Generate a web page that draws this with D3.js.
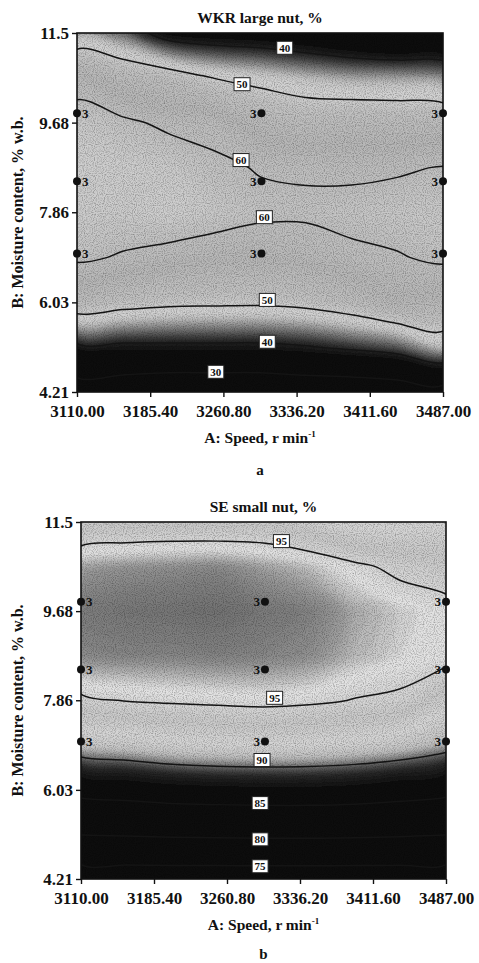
<!DOCTYPE html>
<html><head><meta charset="utf-8">
<script src="https://cdn.jsdelivr.net/npm/d3@7"></script>
<style>
body{margin:0;background:#fff}
text{font-family:"Liberation Serif","DejaVu Serif",serif;font-weight:bold;fill:#111}
</style>
</head><body>
<svg id="chart" width="479" height="963"></svg>
<script>
// ---- data ----
const speeds = [3110, 3157.125, 3204.25, 3251.375, 3298.5, 3345.625, 3392.75, 3439.875, 3487];
const moistures = [11.5, 10.59, 9.68, 8.77, 7.86, 6.94, 6.03, 5.12, 4.21]; // grid rows, top to bottom
const xTicks = [3110, 3185.4, 3260.8, 3336.2, 3411.6, 3487];
const xTickLabels = ["3110.00", "3185.40", "3260.80", "3336.20", "3411.60", "3487.00"];
const yTicks = [4.21, 6.03, 7.86, 9.68, 11.5];
const yTickLabels = ["4.21", "6.03", "7.86", "9.68", "11.5"];

// WKR large nut, % (rows = moistures, cols = speeds)
const wkrGrid = [
  [45.6, 43.4, 37.4, 36.3, 35.9, 34.6, 32.9, 31.3, 32.0],
  [57.8, 54.7, 53.1, 49.9, 48.4, 46.9, 45.8, 45.7, 45.0],
  [62.3, 60.8, 59.2, 59.0, 55.5, 54.0, 54.5, 54.2, 54.0],
  [63.2, 63.0, 62.5, 60.6, 59.8, 59.6, 59.3, 59.5, 60.2],
  [62.5, 62.5, 63.1, 62.1, 60.8, 60.6, 61.1, 61.8, 62.0],
  [60.8, 59.6, 58.5, 57.5, 57.4, 58.0, 59.2, 59.7, 60.8],
  [53.9, 52.2, 51.2, 51.0, 50.9, 51.6, 53.5, 56.6, 55.5],
  [38.7, 38.8, 38.9, 38.9, 38.9, 39.6, 41.0, 42.6, 47.0],
  [25.9, 24.6, 23.3, 23.3, 23.3, 24.3, 24.5, 25.4, 27.0]
];
// SE small nut, %
const seGrid = [
  [93.4, 93.6, 93.7, 93.65, 93.75, 93.1, 92.3, 92.3, 92.4],
  [96.4, 96.6, 96.7, 96.8, 96.4, 96.0, 95.3, 94.64, 94.2],
  [97.2, 97.4, 97.5, 97.6, 97.3, 97.0, 96.3, 95.8, 95.5],
  [96.8, 96.9, 96.9, 97.0, 96.9, 96.7, 96.1, 95.7, 95.6],
  [94.7, 95.05, 95.2, 95.3, 95.4, 95.27, 94.94, 94.75, 93.2],
  [91.4, 91.8, 92.25, 92.5, 92.6, 92.5, 92.2, 91.7, 90.8],
  [86.1, 86.5, 87.0, 87.2, 87.3, 87.3, 87.1, 86.6, 86.0],
  [80.1, 80.3, 80.5, 80.6, 80.7, 80.7, 80.6, 80.4, 80.1],
  [72.6, 72.6, 72.6, 72.6, 72.6, 72.6, 72.6, 72.6, 72.6]
];

const designSpeeds = [3110, 3300, 3487];
const designMoistures = [9.87, 8.49, 7.02];
const replicateLabel = "3";

const wkrLevels = [30, 40, 50, 60];
const seLevels = [75, 80, 85, 90, 95];
const wkrLabels = [
  {v: 40, s: 3324, m: 11.2}, {v: 50, s: 3280, m: 10.46}, {v: 60, s: 3279, m: 8.92},
  {v: 60, s: 3303, m: 7.76}, {v: 50, s: 3306, m: 6.08}, {v: 40, s: 3306, m: 5.23},
  {v: 30, s: 3253, m: 4.62}
];
const seLabels = [
  {v: 95, s: 3317, m: 11.11}, {v: 95, s: 3310, m: 7.91}, {v: 90, s: 3297, m: 6.64},
  {v: 85, s: 3295, m: 5.76}, {v: 80, s: 3295, m: 5.02}, {v: 75, s: 3295, m: 4.47}
];

const wkrShade = [[20, "#0b0b0b"], [38, "#101010"], [41, "#2e2e2e"], [44, "#7d7d7d"], [47, "#c8c8c8"],
  [49, "#d4d4d4"], [52, "#c2c2c2"], [57, "#b6b6b6"], [60, "#c0c0c0"], [63.5, "#d0d0d0"]];
const seShade = [[70, "#0b0b0b"], [87.5, "#101010"], [89, "#2a2a2a"], [90, "#6e6e6e"], [91, "#c0c0c0"],
  [92.5, "#d6d6d6"], [93.8, "#c8c8c8"], [95, "#d8d8d8"], [95.5, "#e6e6e6"], [96.0, "#bebebe"],
  [96.5, "#989898"], [97.0, "#808080"], [97.6, "#707070"]];

// ---- drawing ----
const svg = d3.select("#chart");
const defs = svg.append("defs");
const blur = defs.append("filter").attr("id", "soft").attr("x", "-5%").attr("y", "-5%").attr("width", "110%").attr("height", "110%");
blur.append("feGaussianBlur").attr("stdDeviation", 2.5);
const grain = defs.append("filter").attr("id", "grain").attr("x", 0).attr("y", 0).attr("width", "100%").attr("height", "100%");
grain.append("feTurbulence").attr("type", "fractalNoise").attr("baseFrequency", 0.9).attr("numOctaves", 1).attr("seed", 4);
grain.append("feColorMatrix").attr("type", "matrix")
  .attr("values", "0 0 0 0 0  0 0 0 0 0  0 0 0 0 0  0 0 0 -2.2 1.25");

function panel(cfg) {
  const {id, grid, left, top, width, height, levels, labels, shade, title, letter} = cfg;
  const x = d3.scaleLinear().domain([speeds[0], speeds[speeds.length - 1]]).range([left, left + width]);
  const y = d3.scaleLinear().domain([4.21, 11.5]).range([top + height, top]);
  const nx = speeds.length, ny = moistures.length;
  const values = grid.flat();
  const gx = d3.scaleLinear().domain([0.5, nx - 0.5]).range([x(speeds[0]), x(speeds[nx - 1])]);
  const gy = d3.scaleLinear().domain([0.5, ny - 0.5]).range([y(moistures[0]), y(moistures[ny - 1])]);
  const color = d3.scaleLinear().domain(shade.map(d => d[0])).range(shade.map(d => d[1])).clamp(true);

  const line = d3.line().x(p => gx(p[0])).y(p => gy(p[1])).curve(d3.curveCatmullRomClosed.alpha(0.5));
  const pathOf = geom => geom.coordinates.map(poly => poly.map(r => line(r.slice(0, -1))).join("")).join("");

  const g = svg.append("g");
  defs.append("clipPath").attr("id", id).append("rect")
    .attr("x", left).attr("y", top).attr("width", width).attr("height", height);
  const plot = g.append("g").attr("clip-path", `url(#${id})`);

  const vmin = d3.min(values), vmax = d3.max(values);
  const fillG = plot.append("g").attr("filter", "url(#soft)");
  fillG.append("rect").attr("x", left - 30).attr("y", top - 30).attr("width", width + 60).attr("height", height + 60)
    .attr("fill", color(vmin));
  const th = d3.range(Math.floor(vmin), vmax, 0.15);
  const fills = d3.contours().size([nx, ny]).thresholds(th)(values);
  fillG.selectAll("path.band").data(fills).join("path").attr("class", "band")
    .attr("d", pathOf).attr("fill", d => color(d.value)).attr("fill-rule", "evenodd");

  // scan grain
  plot.append("rect").attr("x", left).attr("y", top).attr("width", width).attr("height", height)
    .attr("filter", "url(#grain)").attr("opacity", 0.35);

  const lines = d3.contours().size([nx, ny]).thresholds(levels)(values);
  plot.selectAll("path.iso").data(lines).join("path").attr("class", "iso")
    .attr("d", pathOf).attr("fill", "none").attr("stroke", "#141414").attr("stroke-width", 1.5);

  // frame
  g.append("rect").attr("x", left).attr("y", top).attr("width", width).attr("height", height)
    .attr("fill", "none").attr("stroke", "#111").attr("stroke-width", 1.6);

  // axes
  const ya = g.append("g").attr("transform", `translate(${left},0)`)
    .call(d3.axisLeft(y).tickValues(yTicks).tickFormat((d, i) => yTickLabels[i]).tickSize(5).tickPadding(3));
  const xa = g.append("g").attr("transform", `translate(0,${top + height})`)
    .call(d3.axisBottom(x).tickValues(xTicks).tickFormat((d, i) => xTickLabels[i]).tickSize(5).tickPadding(8));
  [ya, xa].forEach(a => {
    a.select(".domain").remove();
    a.selectAll("line").attr("stroke", "#111").attr("stroke-width", 1.4);
    a.selectAll("text").attr("font-size", 17).attr("font-family", "Liberation Serif").attr("font-weight", "bold").attr("fill", "#111");
  });

  // design points
  designSpeeds.forEach(s => designMoistures.forEach(m => {
    g.append("circle").attr("cx", x(s)).attr("cy", y(m)).attr("r", 4).attr("fill", "#111");
    const first = s === speeds[0];
    g.append("text").attr("x", x(s) + (first ? 5 : -5)).attr("y", y(m)).attr("dy", "0.35em")
      .attr("text-anchor", first ? "start" : "end").attr("font-size", 13).text(replicateLabel);
  }));

  // contour labels
  labels.forEach(l => {
    const lg = plot.append("g").attr("transform", `translate(${x(l.s)},${y(l.m)})`);
    lg.append("rect").attr("x", -8).attr("y", -6.5).attr("width", 16).attr("height", 13)
      .attr("fill", "#fff").attr("stroke", "#222").attr("stroke-width", 1);
    lg.append("text").attr("text-anchor", "middle").attr("dy", "0.35em").attr("font-size", 11).text(l.v);
  });

  // titles
  g.append("text").attr("x", left + width / 2).attr("y", top - 10).attr("text-anchor", "middle")
    .attr("font-size", 15.5).text(title);
  g.append("text").attr("x", left + width / 2).attr("y", top + height + 51).attr("text-anchor", "middle")
    .attr("font-size", 15.5).text("A: Speed, r min").append("tspan").attr("dy", -6).attr("font-size", 9).text("-1");
  g.append("text").attr("transform", `translate(23,${top + height / 2}) rotate(-90)`).attr("text-anchor", "middle")
    .attr("font-size", 16).text("B: Moisture content, % w.b.");
  g.append("text").attr("x", left + width / 2).attr("y", Math.min(top + height + 83, 959)).attr("text-anchor", "middle")
    .attr("font-size", 15).text(letter);
}

panel({id: "clipA", grid: wkrGrid, left: 77, top: 33, width: 366, height: 359, levels: wkrLevels,
  labels: wkrLabels, shade: wkrShade, title: "WKR large nut, %", letter: "a"});
panel({id: "clipB", grid: seGrid, left: 81, top: 522, width: 365, height: 357, levels: seLevels,
  labels: seLabels, shade: seShade, title: "SE small nut, %", letter: "b"});
</script>
</body></html>
